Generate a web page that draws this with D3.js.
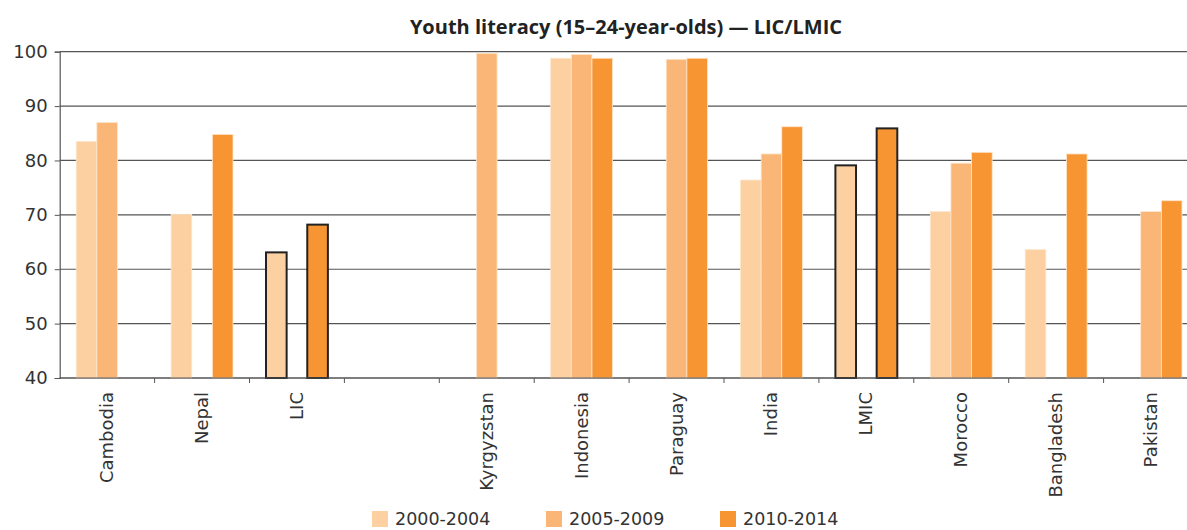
<!DOCTYPE html>
<html>
<head>
<meta charset="utf-8">
<script src="https://cdn.jsdelivr.net/npm/d3@7"></script>
<style>
  body { margin: 0; background: #fff; }
  svg { display: block; font-family: "DejaVu Sans", sans-serif; }
</style>
</head>
<body>
<div id="chart"></div>
<script>
// categories ("" = empty gap slot between LIC and LMIC groups)
var categories = ["Cambodia", "Nepal", "LIC", "", "Kyrgyzstan", "Indonesia", "Paraguay", "India", "LMIC", "Morocco", "Bangladesh", "Pakistan"];
var seriesNames = ["2000-2004", "2005-2009", "2010-2014"];
var v2000 = [83.5, 70.1, 63.1, null, null, 98.8, null, 76.4, 79.1, 70.6, 63.6, null];
var v2005 = [87.0, null, null, null, 99.7, 99.5, 98.6, 81.2, null, 79.5, null, 70.6];
var v2010 = [null, 84.8, 68.2, null, null, 98.8, 98.8, 86.2, 85.9, 81.5, 81.2, 72.6];
var aggregates = ["LIC", "LMIC"];
var yTicks = [40, 50, 60, 70, 80, 90, 100];

var colors = ["#fcd0a1", "#fab676", "#f79533"];
var W = 1187, H = 530;

var svg = d3.select("#chart").append("svg")
    .attr("width", W).attr("height", H);

var x = d3.scaleBand()
    .domain(categories)
    .range([59.7, 59.7 + 94.9 * categories.length]);
var x1 = d3.scaleBand()
    .domain(seriesNames)
    .range([0, x.bandwidth()])
    .paddingInner(0)
    .paddingOuter(0.8);
var y = d3.scaleLinear().domain([40, 100]).range([378, 51.7]);

// title
svg.append("text")
    .attr("x", 626).attr("y", 34)
    .attr("text-anchor", "middle")
    .attr("font-family", "'Open Sans', sans-serif")
    .attr("font-weight", "bold")
    .attr("font-size", 20)
    .attr("fill", "#222")
    .text("Youth literacy (15–24-year-olds) — LIC/LMIC");

// gridlines
svg.selectAll(".grid").data(yTicks).enter().append("line")
    .attr("x1", x.range()[0]).attr("x2", W)
    .attr("y1", d => y(d)).attr("y2", d => y(d))
    .attr("stroke", "#555").attr("stroke-width", 1.2);

// y axis
var yAxis = svg.append("g")
    .attr("transform", "translate(" + x.range()[0] + ",0)")
    .call(d3.axisLeft(y).tickValues(yTicks).tickSize(5).tickPadding(7));
yAxis.select(".domain").attr("stroke", "#555").attr("stroke-width", 1.2);
yAxis.selectAll(".tick line").attr("stroke", "#555");
yAxis.selectAll("text").attr("font-size", 18).attr("fill", "#333")
    .attr("font-family", "'DejaVu Sans', sans-serif");

// bars
var rows = [];
categories.forEach(function(c, i) {
    [v2000, v2005, v2010].forEach(function(arr, j) {
        if (arr[i] != null) rows.push({ cat: c, s: seriesNames[j], v: arr[i], k: j });
    });
});

svg.selectAll(".bar").data(rows).enter().append("rect")
    .attr("class", "bar")
    .attr("x", d => x(d.cat) + x1(d.s))
    .attr("width", x1.bandwidth())
    .attr("y", d => y(d.v))
    .attr("height", d => y(40) - y(d.v))
    .attr("fill", d => colors[d.k])
    .attr("stroke", d => aggregates.includes(d.cat) ? "#222" : "#fde6cc")
    .attr("stroke-width", d => aggregates.includes(d.cat) ? 2 : 0.8);

// x axis
var xAxis = svg.append("g")
    .attr("transform", "translate(0," + y(40) + ")");
xAxis.append("line")
    .attr("x1", x.range()[0]).attr("x2", W)
    .attr("stroke", "#555").attr("stroke-width", 1.2);
xAxis.selectAll(".bt").data(categories.slice(1)).enter().append("line")
    .attr("x1", d => x(d)).attr("x2", d => x(d))
    .attr("y1", 0).attr("y2", 5)
    .attr("stroke", "#555");
xAxis.selectAll(".lbl").data(categories.filter(d => d !== "")).enter().append("text")
    .attr("transform", d => "translate(" + (x(d) + x.bandwidth() / 2 + 6) + ",14) rotate(-90)")
    .attr("text-anchor", "end")
    .attr("font-size", 18)
    .attr("fill", "#333")
    .text(d => d);

// legend
var legendX = [372, 546, 720];
var leg = svg.selectAll(".leg").data(seriesNames).enter().append("g")
    .attr("transform", (d, i) => "translate(" + legendX[i] + ",511)");
leg.append("rect").attr("width", 16).attr("height", 16)
    .attr("fill", (d, i) => colors[i]);
leg.append("text").attr("x", 23).attr("y", 14)
    .attr("font-size", 17.5).attr("fill", "#333")
    .text(d => d);
</script>
</body>
</html>
